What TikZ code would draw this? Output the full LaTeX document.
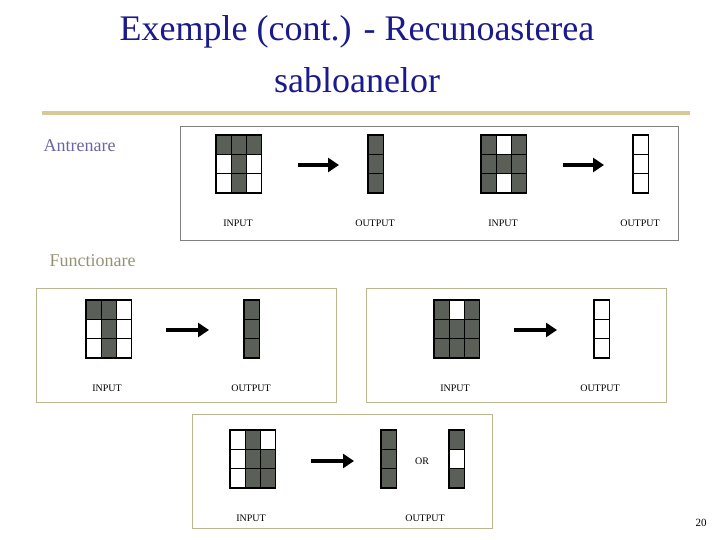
\documentclass[tikz,border=0pt]{standalone}
\usepackage{fontspec}
\setmainfont{Liberation Serif}
\usetikzlibrary{arrows.meta}
\definecolor{cellg}{HTML}{5A5F58}
\definecolor{ttl}{HTML}{1A1A8C}
\definecolor{rule}{HTML}{D8C898}
\definecolor{olv}{HTML}{B8B890}
\newcommand{\mygrid}[4]{%
 \foreach \v [count=\i from 0] in {#4}{%
   \pgfmathtruncatemacro{\c}{mod(\i,#3)}%
   \pgfmathtruncatemacro{\r}{div(\i,#3)}%
   \ifnum\v=1 \fill[cellg] ({#1+\c*15.2},{#2+\r*19.3}) rectangle ++(15.2,19.3);\fi
   \draw[line width=1.4pt] ({#1+\c*15.2},{#2+\r*19.3}) rectangle ++(15.2,19.3);
 }}
\begin{document}
\begin{tikzpicture}[x=1pt,y=-1pt,
  panel/.style={draw=olv,line width=0.8pt},
  lbl/.style={font=\fontsize{10}{10}\selectfont},
  arr/.style={-{Triangle[length=11pt,width=14pt]},line width=4.5pt}]
\useasboundingbox (0,0) rectangle (720,540);
\node[text=ttl,font=\fontsize{36}{36}\selectfont] (t1) at (357,32) {Exemple (cont.) - Recunoasterea};
\node[text=ttl,font=\fontsize{36}{36}\selectfont] (t2) at (357,80) {sabloanelor};
\draw[rule,line width=4pt] (42,113) -- (690,113);
\node[anchor=west,text=black!60!blue!60,font=\fontsize{18}{18}\selectfont] (a) at (40,146) {Antrenare};
\node[anchor=west,text=olv!80!black,font=\fontsize{18}{18}\selectfont] (f) at (46,261) {Functionare};
\node[font=\fontsize{11}{11}\selectfont] (n) at (701,523) {20};
% top panel
\draw[draw=gray,line width=0.8pt] (180,126) rectangle (678,240);
\mygrid{216}{135}{3}{1,1,1,0,1,0,0,1,0}
\mygrid{368}{135}{1}{1,1,1}
\mygrid{481}{135}{3}{1,0,1,1,1,1,1,0,1}
\mygrid{633}{135}{1}{0,0,0}
\coordinate (a1s) at (298,165); \coordinate (a1e) at (339,165);
\coordinate (a2s) at (563,165); \coordinate (a2e) at (604,165);
\draw[arr] (a1s) -- (a1e); \draw[arr] (a2s) -- (a2e);
\node[lbl] (l1) at (238,223) {INPUT}; \node[lbl] (l2) at (375,223) {OUTPUT};
\node[lbl] (l3) at (503,223) {INPUT}; \node[lbl] (l4) at (640,223) {OUTPUT};
% middle left
\draw[panel] (36,288) rectangle (336,402);
\mygrid{86}{300}{3}{1,1,0,0,1,0,0,1,0}
\mygrid{244}{300}{1}{1,1,1}
\coordinate (a3s) at (166,330); \coordinate (a3e) at (209,330);
\draw[arr] (a3s) -- (a3e);
\node[lbl] (l5) at (107,388) {INPUT}; \node[lbl] (l6) at (251,388) {OUTPUT};
% middle right
\draw[panel] (366,288) rectangle (666,402);
\mygrid{434}{300}{3}{1,0,1,1,1,1,1,1,1}
\mygrid{594}{300}{1}{0,0,0}
\coordinate (a4s) at (514,330); \coordinate (a4e) at (557,330);
\draw[arr] (a4s) -- (a4e);
\node[lbl] (l7) at (455,388) {INPUT}; \node[lbl] (l8) at (600,388) {OUTPUT};
% bottom
\draw[panel] (192,414) rectangle (492,528);
\mygrid{230}{430}{3}{0,1,0,0,1,1,0,1,1}
\mygrid{381}{430}{1}{1,1,1}
\mygrid{449}{430}{1}{1,0,1}
\coordinate (a5s) at (311,461); \coordinate (a5e) at (354,461);
\draw[arr] (a5s) -- (a5e);
\node[lbl] (or) at (422,461) {OR};
\node[lbl] (l9) at (251,518) {INPUT}; \node[lbl] (l10) at (425,518) {OUTPUT};
\end{tikzpicture}
\end{document}
